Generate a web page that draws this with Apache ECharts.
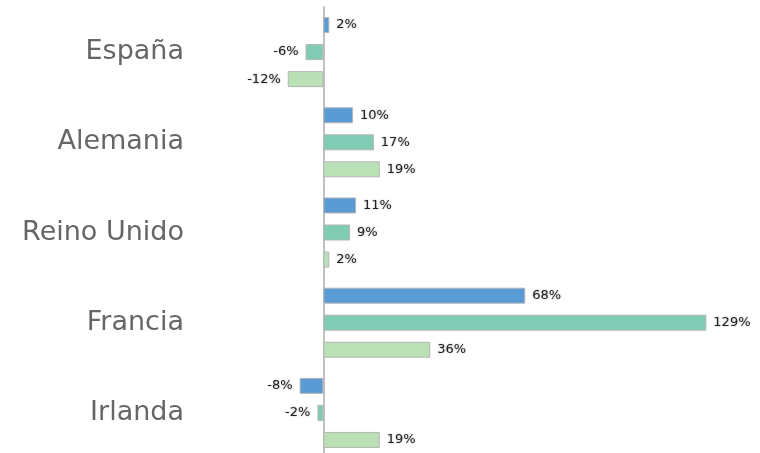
<!DOCTYPE html>
<html><head><meta charset="utf-8">
<script src="https://cdn.jsdelivr.net/npm/echarts@6/dist/echarts.min.js"></script>
<style>html,body{margin:0;padding:0;background:#fff}#c{width:760px;height:453px}</style>
</head><body><div id="c"></div>
<script>
const categories = ['España', 'Alemania', 'Reino Unido', 'Francia', 'Irlanda'];
const serieA = [2, 10, 11, 68, -8];
const serieB = [-6, 17, 9, 129, -2];
const serieC = [-12, 19, 2, 36, 19];
const colors = ['#5b9bd5', '#80cbb3', '#bae0b5'];

const chart = echarts.init(document.getElementById('c'));
const label = {
  show: true, position: 'right', formatter: p => p.value + '%',
  fontFamily: 'DejaVu Sans', fontSize: 13, color: '#222',
  textShadowColor: 'rgba(0,0,0,0.35)', textShadowBlur: 2, distance: 7,
  padding: [3, 0, 0, 0]
};
const labelNeg = Object.assign({}, label, {position: 'left'});
function mk(name, arr, i) {
  return {
    name, type: 'bar',
    data: arr.map(v => ({value: v, label: v < 0 ? labelNeg : label})),
    barWidth: 16, barGap: '69%', barCategoryGap: '22%',
    itemStyle: {color: colors[i], borderColor: '#b5b5b5', borderWidth: 1},
    label
  };
}
chart.setOption({
  animation: false,
  grid: {left: 264, width: 475, top: 7, height: 451, containLabel: false, outerBoundsMode: 'none'},
  xAxis: {type: 'value', min: -20, max: 140, show: false},
  yAxis: {
    type: 'category', data: categories, inverse: true,
    axisLine: {onZero: true, lineStyle: {color: '#c0c0c0', width: 2}},
    axisTick: {show: false},
    axisLabel: {fontFamily: 'DejaVu Sans', fontSize: 27, color: '#666', margin: 80}
  },
  series: [mk('A', serieA, 0), mk('B', serieB, 1), mk('C', serieC, 2)]
});
</script></body></html>
